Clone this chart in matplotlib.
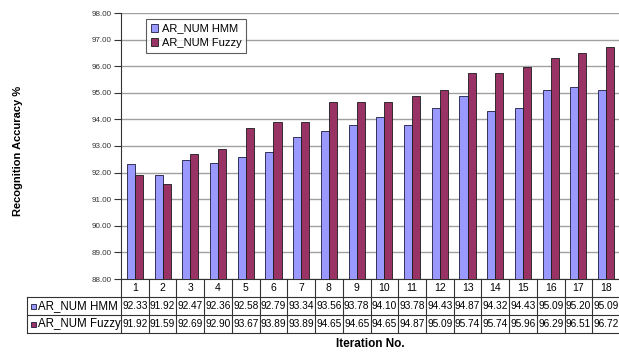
import matplotlib
matplotlib.use("Agg")
import matplotlib.pyplot as plt
from matplotlib.transforms import blended_transform_factory
from matplotlib.patches import Rectangle
import numpy as np

plt.rcParams['font.family'] = ['Liberation Sans', 'DejaVu Sans']

iterations = [str(i) for i in range(1, 19)]
hmm = [92.33, 91.92, 92.47, 92.36, 92.58, 92.79, 93.34, 93.56, 93.78, 94.10,
       93.78, 94.43, 94.87, 94.32, 94.43, 95.09, 95.20, 95.09]
fuzzy = [91.92, 91.59, 92.69, 92.90, 93.67, 93.89, 93.89, 94.65, 94.65, 94.65,
         94.87, 95.09, 95.74, 95.74, 95.96, 96.29, 96.51, 96.72]
series_names = ["AR_NUM HMM", "AR_NUM Fuzzy"]
colors = ["#9999FF", "#993366"]
yticks = [88, 89, 90, 91, 92, 93, 94, 95, 96, 97, 98]

W, H = 619, 354
fig = plt.figure(figsize=(W / 100, H / 100), dpi=100)
ax = fig.add_axes([121 / W, 1 - 279 / H, 499 / W, 266 / H])

x = np.arange(len(iterations))
bw = 0.29
ax.bar(x - bw / 2, hmm, bw, bottom=0, color=colors[0], edgecolor="#1a1a40",
       linewidth=0.6, label=series_names[0], zorder=3)
ax.bar(x + bw / 2, fuzzy, bw, bottom=0, color=colors[1], edgecolor="#1a1a1a",
       linewidth=0.6, label=series_names[1], zorder=3)

ax.set_xlim(-0.5, len(iterations) - 0.5)
ax.set_ylim(88, 98)
ax.set_yticks(yticks)
ax.set_yticklabels([f"{v:.2f}" for v in yticks], fontsize=5.8, color="#333333")
ax.yaxis.grid(True, color="#a0a0a0", linewidth=1.0, zorder=0)
ax.set_xticks([])
for side in ["top", "right"]:
    ax.spines[side].set_visible(False)
ax.spines["left"].set_color("#333333")
ax.spines["bottom"].set_color("#333333")
ax.tick_params(axis="y", direction="out", length=5, width=0.8, color="#333333", pad=2)

ax.set_ylabel("Recognition Accuracy %", fontsize=8, fontweight="bold")
ax.yaxis.set_label_coords(-98 / 499, 0.48)

leg = ax.legend(loc="upper left", bbox_to_anchor=(19 / 499, 1.0), fontsize=8,
                frameon=True, fancybox=False, edgecolor="#333333",
                handlelength=0.7, handleheight=0.7, handletextpad=0.3,
                borderpad=0.45, labelspacing=0.4)
leg.get_frame().set_linewidth(0.8)

# data table below the axis
tr = blended_transform_factory(ax.transData, fig.transFigure)
y_axis = 1 - 279 / H
y_r1 = 1 - 297 / H
y_r2 = 1 - 315 / H
y_r3 = 1 - 333 / H
lc = "#333333"
for i in range(len(iterations) + 1):
    ax.plot([i - 0.5, i - 0.5], [y_axis, y_r3], transform=tr, color=lc,
            linewidth=0.8, clip_on=False)
for yy in [y_r1, y_r2, y_r3]:
    fig.add_artist(plt.Line2D([27 / W, 1.0], [yy, yy], color=lc, linewidth=0.8))
fig.add_artist(plt.Line2D([27 / W, 27 / W], [y_r3, y_r1], color=lc, linewidth=0.8))

for i, lab in enumerate(iterations):
    ax.text(i, (y_axis + y_r1) / 2, lab, transform=tr, ha="center", va="center",
            fontsize=7.5, clip_on=False)
    ax.text(i, (y_r1 + y_r2) / 2, f"{hmm[i]:.2f}", transform=tr, ha="center",
            va="center", fontsize=7.3, clip_on=False)
    ax.text(i, (y_r2 + y_r3) / 2, f"{fuzzy[i]:.2f}", transform=tr, ha="center",
            va="center", fontsize=7.3, clip_on=False)

for k, (name, c) in enumerate(zip(series_names, colors)):
    yc = [(y_r1 + y_r2) / 2, (y_r2 + y_r3) / 2][k]
    fig.add_artist(Rectangle((31 / W, yc - 2.5 / H), 5 / W, 5 / H, facecolor=c,
                             edgecolor="#1a1a40", linewidth=0.6))
    fig.text(38 / W, yc, name, ha="left", va="center", fontsize=8.3)

fig.text(370 / W, 1 - 344 / H, "Iteration No.", ha="center", va="center",
         fontsize=8.5, fontweight="bold")

fig.savefig("out.png", dpi=100)
